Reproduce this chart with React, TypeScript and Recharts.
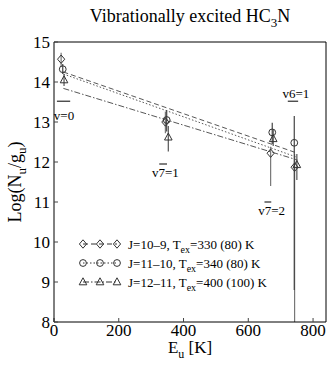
import React from 'react';
import {
  ComposedChart,
  XAxis,
  YAxis,
  Scatter,
  Line,
  ErrorBar,
  ReferenceLine,
  ReferenceDot,
} from 'recharts';

const FONT = '"Liberation Serif", "DejaVu Serif", serif';

// axes
const xTicks = [0, 200, 400, 600, 800];
const yTicks = [8, 9, 10, 11, 12, 13, 14, 15];
const xDomain = [0, 840];
const yDomain = [8, 15];

// J=10-9 (diamonds)
const dEu = [22, 344, 669, 743];
const dLog = [14.57, 13.0, 12.22, 11.87];
const dLo = [14.38, 12.72, 11.4, 8.0];
const dHi = [14.73, 13.26, 12.38, 12.2];

// J=11-10 (circles)
const cEu = [27, 348, 674, 742];
const cLog = [14.32, 13.05, 12.74, 12.48];
const cLo = [14.2, 12.76, 12.45, 8.8];
const cHi = [14.45, 13.3, 12.98, 13.15];

// J=12-11 (triangles)
const tEu = [31, 353, 677, 750];
const tLog = [14.05, 12.62, 12.58, 11.93];
const tLo = [13.9, 12.26, 12.4, 11.55];
const tHi = [14.2, 12.9, 12.8, 12.2];

// rotational-diagram fits
const fitDashEu = [29, 752];
const fitDashLog = [14.25, 12.22];
const fitDotEu = [29, 750];
const fitDotLog = [14.2, 12.12];
const fitDashDotEu = [29, 752];
const fitDashDotLog = [13.84, 12.05];

// level annotations
const labelTexts = ['v=0', 'v7=1', 'v7=2', 'v6=1'];
const labelEu = [31, 344, 672, 747];
const labelLog = [13.17, 11.75, 10.78, 13.72];
const barEuStart = [9, 325, 650, 722];
const barEuEnd = [50, 349, 671, 754];
const barLog = [13.52, 11.95, 11.0, 13.52];

const legendLabels = ['J=10\u20139', 'J=11\u201310', 'J=12\u201311'];
const legendTex = ['=330 (80) K', '=340 (80) K', '=400 (100) K'];

const mkPoints = (eu: number[], lg: number[], lo: number[], hi: number[]) =>
  eu.map((x, i) => ({ x, y: lg[i], err: [lg[i] - lo[i], hi[i] - lg[i]] }));
const mkLine = (eu: number[], lg: number[]) => eu.map((x, i) => ({ x, y: lg[i] }));

const dData = mkPoints(dEu, dLog, dLo, dHi);
const cData = mkPoints(cEu, cLog, cLo, cHi);
const tData = mkPoints(tEu, tLog, tLo, tHi);

const MK = '#333';
const DiamondMark = ({ cx, cy }: any) => (
  <path d={`M${cx},${cy - 4.2}L${cx + 3.6},${cy}L${cx},${cy + 4.2}L${cx - 3.6},${cy}Z`} fill="none" stroke={MK} strokeWidth={1} />
);
const CircleMark = ({ cx, cy }: any) => <circle cx={cx} cy={cy} r={3.4} fill="none" stroke={MK} strokeWidth={1} />;
const TriMark = ({ cx, cy }: any) => (
  <path d={`M${cx},${cy - 4.2}L${cx + 3.8},${cy + 2.8}L${cx - 3.8},${cy + 2.8}Z`} fill="none" stroke={MK} strokeWidth={1} />
);

const dashes = ['5 3', '1.5 2', '6 2 1.5 2'];
const marks = [DiamondMark, CircleMark, TriMark];

const LegendBox = () => (
  <svg width={240} height={60} style={{ position: 'absolute', left: 78, top: 234, overflow: 'visible' }}>
    {legendLabels.map((lab, i) => {
      const y = 10 + i * 19;
      const M = marks[i];
      return (
        <g key={lab}>
          <line x1={5} x2={39} y1={y} y2={y} stroke={MK} strokeDasharray={dashes[i]} />
          <M cx={5} cy={y} />
          <M cx={22} cy={y} />
          <M cx={39} cy={y} />
          <text x={50} y={y + 4.5} fontFamily={FONT} fontSize={13} fill="#000">
            {lab + ', T'}
            <tspan fontSize={10} dy={4}>ex</tspan>
            <tspan dy={-4}>{legendTex[i]}</tspan>
          </text>
        </g>
      );
    })}
  </svg>
);

export default function App() {
  const tickStyle = { fontFamily: FONT, fontSize: 17, fill: '#000' };
  return (
    <div style={{ position: 'absolute', left: 0, top: 0, width: 332, height: 368, background: '#fff' }}>
      <ComposedChart width={332} height={368} margin={{ top: 41, right: 5, bottom: 45, left: 53 }}>
        <XAxis
          xAxisId={0}
          dataKey="x"
          type="number"
          domain={xDomain}
          ticks={xTicks}
          allowDataOverflow
          height={1}
          tickSize={-4}
          tickMargin={6}
          tick={tickStyle}
          stroke="#000"
          tickLine={{ stroke: '#444' }}
          axisLine={{ stroke: '#000' }}
        />
        <XAxis
          xAxisId="top"
          orientation="top"
          type="number"
          domain={xDomain}
          ticks={xTicks}
          allowDataOverflow
          height={1}
          tickSize={-4}
          tick={false}
          stroke="#000"
          tickLine={{ stroke: '#444' }}
          axisLine={{ stroke: '#000' }}
        />
        <YAxis
          yAxisId={0}
          dataKey="y"
          type="number"
          domain={yDomain}
          ticks={yTicks}
          allowDataOverflow
          width={1}
          tickSize={-4}
          tickMargin={8}
          tick={tickStyle}
          stroke="#000"
          tickLine={{ stroke: '#444' }}
          axisLine={{ stroke: '#000' }}
        />
        <YAxis
          yAxisId="right"
          orientation="right"
          type="number"
          domain={yDomain}
          ticks={yTicks}
          allowDataOverflow
          width={1}
          tickSize={-4}
          tick={false}
          stroke="#000"
          tickLine={{ stroke: '#444' }}
          axisLine={{ stroke: '#000' }}
        />

        <Line data={mkLine(fitDashEu, fitDashLog)} dataKey="y" stroke="#444" strokeWidth={0.9} strokeDasharray={dashes[0]} dot={false} isAnimationActive={false} />
        <Line data={mkLine(fitDotEu, fitDotLog)} dataKey="y" stroke="#444" strokeWidth={0.9} strokeDasharray={dashes[1]} dot={false} isAnimationActive={false} />
        <Line data={mkLine(fitDashDotEu, fitDashDotLog)} dataKey="y" stroke="#444" strokeWidth={0.9} strokeDasharray={dashes[2]} dot={false} isAnimationActive={false} />

        <Scatter data={dData} shape={DiamondMark} isAnimationActive={false}>
          <ErrorBar dataKey="err" direction="y" width={0} stroke="#777" strokeWidth={1.2} />
        </Scatter>
        <Scatter data={cData} shape={CircleMark} isAnimationActive={false}>
          <ErrorBar dataKey="err" direction="y" width={0} stroke="#444" strokeWidth={1.2} />
        </Scatter>
        <Scatter data={tData} shape={TriMark} isAnimationActive={false}>
          <ErrorBar dataKey="err" direction="y" width={0} stroke="#555" strokeWidth={1.2} />
        </Scatter>

        {labelTexts.map((t, i) => (
          <ReferenceLine
            key={'b' + t}
            segment={[
              { x: barEuStart[i], y: barLog[i] },
              { x: barEuEnd[i], y: barLog[i] },
            ]}
            stroke="#000"
            strokeWidth={1}
          />
        ))}
        {labelTexts.map((t, i) => (
          <ReferenceDot
            key={'l' + t}
            x={labelEu[i]}
            y={labelLog[i]}
            r={0}
            stroke="none"
            fill="none"
            label={{ value: t, position: 'center', fontFamily: FONT, fontSize: 13, fill: '#000' }}
          />
        ))}
      </ComposedChart>

      <LegendBox />

      <svg
        width={332}
        height={368}
        style={{ position: 'absolute', left: 0, top: 0, pointerEvents: 'none' }}
      >
        <text x={190} y={22} textAnchor="middle" fontFamily={FONT} fontSize={18} fill="#000">
          Vibrationally excited HC
          <tspan fontSize={13} dy={5}>3</tspan>
          <tspan dy={-5}>N</tspan>
        </text>
        <text x={190} y={353} textAnchor="middle" fontFamily={FONT} fontSize={17} fill="#000">
          E<tspan fontSize={12} dy={5}>u</tspan>
          <tspan dy={-5}> [K]</tspan>
        </text>
        <text
          x={0}
          y={0}
          transform="translate(21,182) rotate(-90)"
          textAnchor="middle"
          fontFamily={FONT}
          fontSize={18}
          fill="#000"
        >
          Log(N<tspan fontSize={13} dy={5}>u</tspan>
          <tspan dy={-5}>/g</tspan>
          <tspan fontSize={13} dy={5}>u</tspan>
          <tspan dy={-5}>)</tspan>
        </text>
      </svg>
    </div>
  );
}
